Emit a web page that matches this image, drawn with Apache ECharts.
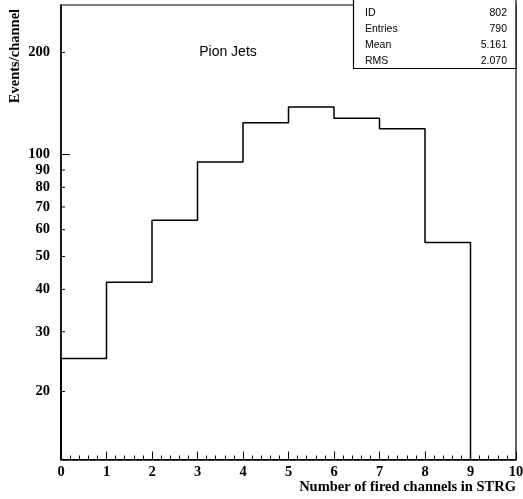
<!DOCTYPE html>
<html>
<head>
<meta charset="utf-8">
<script src="https://cdn.jsdelivr.net/npm/echarts@6/dist/echarts.min.js"></script>
<style>
  html, body { margin: 0; padding: 0; background: #fff; }
  #chart { width: 523px; height: 499px; }
</style>
</head>
<body>
<div id="chart"></div>
<script>
// Histogram contents: number of fired channels in STRG, one bin per channel count
const binEdges = [0, 1, 2, 3, 4, 5, 6, 7, 8, 9, 10];
const binCounts = [25, 42, 64, 95, 124, 138, 128, 119, 55, 0];

// Log-scale tick labels on the vertical axis
const yTickValues = [20, 30, 40, 50, 60, 70, 80, 90, 100, 200];
const yMajorTicks = [100];

// Statistics box
const statLabels = ['ID', 'Entries', 'Mean', 'RMS'];
const statValues = ['802', '790', '5.161', '2.070'];

const Y_MIN = 12.6;
const Y_MAX = 276;

const serif = '"Liberation Serif", "Times New Roman", serif';
const sans = '"Liberation Sans", Arial, Helvetica, sans-serif';

// Outline of the histogram as a stepped polyline (empty bins drop to the floor)
const outline = [];
for (let i = 0; i < binCounts.length; i++) {
  const lo = binEdges[i], hi = binEdges[i + 1];
  if (binCounts[i] <= 0) { outline.push([lo, Y_MIN]); break; }
  if (i === 0) outline.push([lo, Y_MIN]);
  outline.push([lo, binCounts[i]]);
  outline.push([hi, binCounts[i]]);
}

const chart = echarts.init(document.getElementById('chart'), null, { renderer: 'canvas' });

const gridLeft = 61, gridRight = 7, gridTop = 5, gridBottom = 39.5;

const statGraphics = [];
statGraphics.push({
  type: 'rect',
  shape: { x: 353.5, y: -1, width: 162.5, height: 69.5 },
  style: { fill: '#fff', stroke: '#000', lineWidth: 1.2 },
  z: 100
});
statLabels.forEach((t, i) => {
  statGraphics.push({
    type: 'text', z: 101,
    style: { x: 365, y: 13 + i * 16, text: t, font: '10.5px ' + sans, fill: '#000',
             textAlign: 'left', textVerticalAlign: 'middle' }
  });
  statGraphics.push({
    type: 'text', z: 101,
    style: { x: 507, y: 13 + i * 16, text: statValues[i], font: '10.5px ' + sans, fill: '#000',
             textAlign: 'right', textVerticalAlign: 'middle' }
  });
});

chart.setOption({
  animation: false,
  backgroundColor: '#fff',
  grid: {
    left: gridLeft, right: gridRight, top: gridTop, bottom: gridBottom,
    outerBoundsMode: 'none', containLabel: false,
    show: true, borderColor: '#000', borderWidth: 1.2, backgroundColor: 'transparent'
  },
  xAxis: {
    type: 'value', min: 0, max: 10, interval: 1,
    axisLine: { onZero: false, lineStyle: { color: '#000', width: 1.5 } },
    axisTick: { inside: true, length: 8, lineStyle: { color: '#000', width: 1 } },
    minorTick: { show: true, splitNumber: 5, length: 4, lineStyle: { color: '#000', width: 1 } },
    splitLine: { show: false },
    axisLabel: { margin: 5, color: '#000', fontFamily: serif, fontWeight: 'bold', fontSize: 14.5 }
  },
  yAxis: {
    type: 'log', logBase: 10, min: Y_MIN, max: Y_MAX,
    axisLine: { lineStyle: { color: '#000', width: 1.5 } },
    axisTick: { show: false },
    axisLabel: { show: false },
    splitLine: { show: false }
  },
  graphic: [
    {
      type: 'text', z: 50,
      style: { x: 228, y: 52, text: 'Pion Jets', font: '14px ' + sans, fill: '#000',
               textAlign: 'center', textVerticalAlign: 'middle' }
    },
    {
      type: 'text', z: 50,
      x: 15, y: 56, rotation: Math.PI / 2,
      style: { x: 0, y: 0, text: 'Events/channel', font: 'bold 14.5px ' + serif, fill: '#000',
               textAlign: 'center', textVerticalAlign: 'middle' }
    },
    {
      type: 'text', z: 50,
      style: { x: 516, y: 487, text: 'Number of fired channels in STRG', font: 'bold 14.5px ' + serif,
               fill: '#000', textAlign: 'right', textVerticalAlign: 'middle' }
    }
  ].concat(statGraphics),
  series: [
    {
      type: 'line',
      data: outline,
      symbol: 'none',
      lineStyle: { color: '#000', width: 1.5 },
      clip: false,
      z: 3
    },
    {
      // Tick marks and labels of the logarithmic vertical axis
      type: 'custom',
      data: yTickValues.map(v => [0, v]),
      clip: false,
      z: 4,
      renderItem: function (params, api) {
        const v = api.value(1);
        const p = api.coord([0, v]);
        const len = yMajorTicks.indexOf(v) >= 0 ? 9 : 4;
        return {
          type: 'group',
          children: [
            {
              type: 'line',
              shape: { x1: p[0], y1: p[1], x2: p[0] + len, y2: p[1] },
              style: { stroke: '#000', lineWidth: 1 }
            },
            {
              type: 'text',
              style: { x: p[0] - 11, y: p[1], text: String(v), font: 'bold 14.5px ' + serif,
                       fill: '#000', textAlign: 'right', textVerticalAlign: 'middle' }
            }
          ]
        };
      }
    }
  ]
});
</script>
</body>
</html>
